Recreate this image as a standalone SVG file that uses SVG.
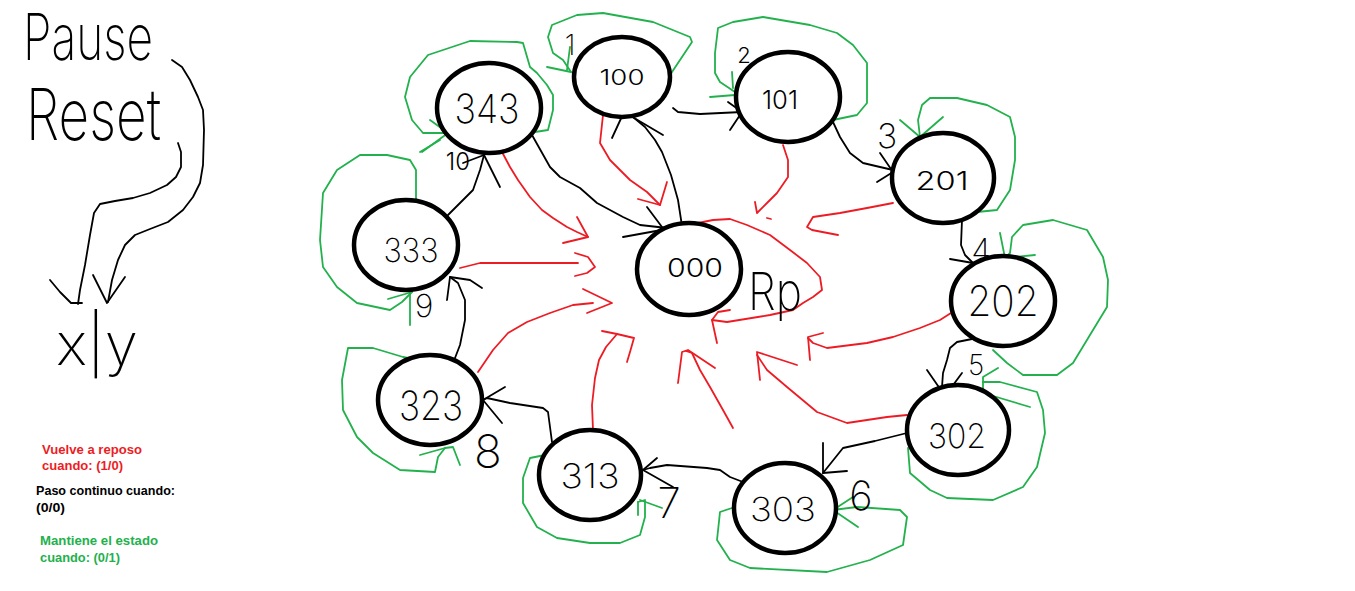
<svg xmlns="http://www.w3.org/2000/svg" width="1355" height="591" viewBox="0 0 1355 591">
  <style>
    .bg { fill: #ffffff; }
    .n { fill: #ffffff; stroke: #000000; stroke-width: 4.5; }
    .k, .r, .g { fill: none; stroke-width: 1.8; stroke-linejoin: round; stroke-linecap: round; }
    .k { stroke: #000000; }
    .r { stroke: #ed1c24; }
    .g { stroke: #22b14c; }
    .hw { font-family: "Inter", "Roboto", "Lato", "DejaVu Sans", sans-serif; font-weight: 200; fill: #000000; }
    .sm { font-weight: 300; }
    .lbl { text-anchor: middle; }
    .leg { font-family: "Liberation Sans", Arial, sans-serif; font-weight: bold; font-size: 12.5px; }
  </style>

  <rect class="bg" x="0" y="0" width="1355" height="591"/>

  <!-- key: input/output notation -->
  <g id="key">
    <text class="hw" x="23" y="60" font-size="64" textLength="130" lengthAdjust="spacingAndGlyphs">Pause</text>
    <text class="hw" x="26" y="140" font-size="72" textLength="135" lengthAdjust="spacingAndGlyphs">Reset</text>
    <text class="hw" x="56" y="365" font-size="58" textLength="82" lengthAdjust="spacingAndGlyphs">x|y</text>
    <path class="k" d="M172,60 L182,67 L190,80 L198,97 L203,110 L204,130 L203,165 L200,183 L193,197 L183,210 L168,222 L150,229 L135,235 L125,245 L118,260 L112,280 L108,302"/>
    <path class="k" d="M93,275 L107,303 L125,277"/>
    <path class="k" d="M178,143 L181,152 L181,167 L176,177 L167,185 L150,193 L133,198 L115,201 L100,204 L94,213 L90,235 L85,265 L80,290 L78,304"/>
    <path class="k" d="M50,280 L60,292 L71,303 L82,303"/>
  </g>

  <!-- legend -->
  <g id="legend" class="leg">
    <text x="42" y="454" fill="#ed1c24" textLength="100" lengthAdjust="spacingAndGlyphs">Vuelve a reposo</text>
    <text x="42" y="470" fill="#ed1c24" textLength="81" lengthAdjust="spacingAndGlyphs">cuando: (1/0)</text>
    <text x="36" y="495" fill="#000000" textLength="139" lengthAdjust="spacingAndGlyphs">Paso continuo cuando:</text>
    <text x="36" y="512" fill="#000000" textLength="29" lengthAdjust="spacingAndGlyphs">(0/0)</text>
    <text x="40" y="545" fill="#22b14c" textLength="118" lengthAdjust="spacingAndGlyphs">Mantiene el estado</text>
    <text x="40" y="562" fill="#22b14c" textLength="80" lengthAdjust="spacingAndGlyphs">cuando: (0/1)</text>
  </g>

  <g id="connectors">
    <!-- black: step forward (0/0) -->
    <path class="k" d="M673,108 L678,112 L700,114 L742,112"/>
    <path class="k" d="M728,102 L742,112 L730,130"/>
    <path class="k" d="M833,122 L840,137 L850,153 L863,163 L880,167 L893,170"/>
    <path class="k" d="M880,153 L893,172 L877,182"/>
    <path class="k" d="M962,220 L961,245 L965,255 L973,263"/>
    <path class="k" d="M950,259 L973,263"/>
    <path class="k" d="M977,338 L957,342 L950,348 L947,360 L943,373 L942,387 L945,396"/>
    <path class="k" d="M927,370 L945,396 L962,373"/>
    <path class="k" d="M907,433 L875,441 L843,448 L835,458 L823,473"/>
    <path class="k" d="M823,443 L823,473 L847,471"/>
    <path class="k" d="M743,482 L730,477 L720,470 L707,468 L667,465 L650,468 L643,470"/>
    <path class="k" d="M657,458 L643,470 L673,487"/>
    <path class="k" d="M552,442 L548,412 L543,408 L510,403 L487,398 L483,400"/>
    <path class="k" d="M505,387 L483,400 L502,423"/>
    <path class="k" d="M455,358 L460,345 L465,320 L465,300 L458,283 L450,277"/>
    <path class="k" d="M482,288 L470,280 L450,277 L447,300"/>
    <path class="k" d="M448,215 L460,203 L473,190 L480,170 L484,155"/>
    <path class="k" d="M463,163 L484,155 L500,187"/>
    <path class="k" d="M532,135 L550,167 L560,177 L580,188 L597,203 L623,217 L640,225 L667,228"/>
    <path class="k" d="M647,207 L662,227 M623,237 L667,229"/>
    <path class="k" d="M682,226 L678,200 L671,175 L662,152 L655,140 L645,127 L633,117 L624,112"/>
    <path class="k" d="M612,138 L624,112 L663,135"/>

    <!-- red: back to rest (1/0) -->
    <path class="r" d="M502,152 L510,167 L518,180 L530,197 L542,210 L553,218 L567,227 L577,232 L588,237"/>
    <path class="r" d="M577,217 L588,237 L563,243"/>
    <path class="r" d="M460,268 L480,263 L507,263 L578,263"/>
    <path class="r" d="M575,253 L588,257 L595,267 L587,273 L575,276"/>
    <path class="r" d="M478,372 L493,350 L508,333 L527,322 L550,313 L573,305 L593,303"/>
    <path class="r" d="M583,289 L612,303 L587,313"/>
    <path class="r" d="M593,430 L592,405 L595,378 L599,360 L606,347 L617,334"/>
    <path class="r" d="M602,331 L617,334 L634,338 L630,352 L627,362"/>
    <path class="r" d="M733,428 L723,410 L710,387 L700,370 L692,353 L686,351"/>
    <path class="r" d="M678,383 L682,352 L688,350 L715,368"/>
    <path class="r" d="M907,415 L887,417 L847,423 L817,412 L787,387 L767,370 L757,355"/>
    <path class="r" d="M797,365 L757,352 L760,380"/>
    <path class="r" d="M951,313 L940,320 L920,328 L893,337 L867,343 L827,348 L813,343 L808,338"/>
    <path class="r" d="M823,333 L808,337 L810,360"/>
    <path class="r" d="M893,203 L867,208 L840,213 L813,217 L807,227 L812,230 L838,235"/>
    <path class="r" d="M783,145 L788,160 L788,177 L777,193 L767,203 L757,213 L755,202"/>
    <path class="r" d="M767,218 L771,219"/>
    <path class="r" d="M603,115 L600,143 L610,160 L630,180 L647,192 L660,205"/>
    <path class="r" d="M638,199 L660,205 L667,182"/>
    <path class="r" d="M693,224 L713,220 L730,219 L747,225 L770,235 L790,250 L807,263 L820,277 L822,290 L813,297 L803,303 L793,310 L770,315 L727,322 L712,320"/>
    <path class="r" d="M730,310 L718,312 L712,320 L717,343"/>

    <!-- green: hold state (0/1) -->
    <path class="g" d="M535,132 L548,130 L553,110 L553,95 L547,85 L537,73 L530,67 L523,43 L517,42 L470,41 L428,55 L410,77 L405,97 L412,120 L423,133 L448,133"/>
    <path class="g" d="M430,120 L448,133 L422,152"/>
    <path class="g" d="M670,75 L680,60 L692,42 L690,37 L653,22 L603,13 L577,15 L552,25 L548,37 L553,53 L563,60 L571,72"/>
    <path class="g" d="M547,67 L571,72 M570,47 L567,70"/>
    <path class="g" d="M833,120 L857,115 L867,103 L867,63 L853,45 L837,33 L810,25 L763,17 L733,22 L718,28 L715,53 L715,73 L720,82 L735,92"/>
    <path class="g" d="M732,72 L733,88 M710,97 L735,95"/>
    <path class="g" d="M977,212 L997,210 L1010,190 L1015,160 L1015,137 L1010,117 L987,105 L957,98 L930,98 L922,105 L918,120 L920,137"/>
    <path class="g" d="M900,120 L920,137 L943,117"/>
    <path class="g" d="M993,350 L1007,363 L1023,375 L1057,375 L1073,363 L1093,330 L1107,307 L1108,280 L1103,257 L1087,230 L1053,220 L1023,225 L1012,237 L1010,253 L1005,258"/>
    <path class="g" d="M1000,233 L1005,258 L1035,255"/>
    <path class="g" d="M908,448 L910,473 L930,490 L947,498 L993,500 L1023,487 L1037,467 L1045,433 L1043,410 L1037,392 L1000,382 L983,382"/>
    <path class="g" d="M998,368 L983,377 L983,393 L1030,407"/>
    <path class="g" d="M732,508 L720,512 L717,540 L730,560 L750,568 L827,572 L870,560 L903,545 L907,517 L900,510 L857,507 L833,510"/>
    <path class="g" d="M853,497 L833,510 L858,527"/>
    <path class="g" d="M545,455 L530,458 L523,478 L523,503 L537,527 L557,538 L590,543 L620,543 L640,535 L645,517 L645,500 L638,502"/>
    <path class="g" d="M640,500 L662,508 M638,502 L638,515"/>
    <path class="g" d="M418,360 L403,357 L373,348 L348,348 L342,380 L343,410 L357,437 L373,453 L400,470 L435,472 L438,457 L445,448"/>
    <path class="g" d="M420,455 L445,448 L453,447 L460,465"/>
    <path class="g" d="M416,200 L416,170 L410,160 L387,155 L360,155 L337,170 L323,193 L320,240 L323,267 L337,287 L357,303 L390,310 L402,302 L412,292"/>
    <path class="g" d="M388,299 L412,292 M410,293 L410,325"/>
    <path class="g" d="M420,152 L440,140"/>
  </g>

  <!-- transition numbers -->
  <g id="steps" class="hw lbl">
    <text x="570" y="55" font-size="28">1</text>
    <text class="sm" x="744" y="63" font-size="22">2</text>
    <text x="887" y="148" font-size="34">3</text>
    <text x="981" y="262" font-size="32">4</text>
    <text x="976" y="375" font-size="28">5</text>
    <text x="861" y="510" font-size="40">6</text>
    <text x="669" y="518" font-size="42">7</text>
    <text x="488" y="468" font-size="46">8</text>
    <text x="424" y="317" font-size="32">9</text>
    <text class="sm" x="458" y="170" font-size="24">10</text>
  </g>

  <!-- states -->
  <g id="s000"><ellipse class="n" cx="689" cy="269" rx="52" ry="46"/><text class="hw sm lbl" x="695" y="277" font-size="25" textLength="56" lengthAdjust="spacingAndGlyphs">000</text><text class="hw" x="748" y="310" font-size="52" textLength="54" lengthAdjust="spacingAndGlyphs">Rp</text></g>
  <g id="s100"><ellipse class="n" cx="622" cy="77" rx="48" ry="40"/><text class="hw sm lbl" x="622" y="85" font-size="22" textLength="45" lengthAdjust="spacingAndGlyphs">100</text></g>
  <g id="s101"><ellipse class="n" cx="788" cy="97" rx="52" ry="45"/><text class="hw sm lbl" x="780" y="109" font-size="26" textLength="36" lengthAdjust="spacingAndGlyphs">101</text></g>
  <g id="s201"><ellipse class="n" cx="943" cy="178" rx="51" ry="45"/><text class="hw sm lbl" x="942" y="190" font-size="25" textLength="53" lengthAdjust="spacingAndGlyphs">201</text></g>
  <g id="s202"><ellipse class="n" cx="1003" cy="301" rx="52" ry="45"/><text class="hw lbl" x="1003" y="316" font-size="42" textLength="71" lengthAdjust="spacingAndGlyphs">202</text></g>
  <g id="s302"><ellipse class="n" cx="958" cy="430" rx="51" ry="45"/><text class="hw lbl" x="957" y="448" font-size="34" textLength="58" lengthAdjust="spacingAndGlyphs">302</text></g>
  <g id="s303"><ellipse class="n" cx="785" cy="508" rx="51" ry="45"/><text class="hw lbl" x="783" y="521" font-size="33" textLength="66" lengthAdjust="spacingAndGlyphs">303</text></g>
  <g id="s313"><ellipse class="n" cx="590" cy="475" rx="51" ry="45"/><text class="hw lbl" x="590" y="488" font-size="34" textLength="59" lengthAdjust="spacingAndGlyphs">313</text></g>
  <g id="s323"><ellipse class="n" cx="430" cy="400" rx="52" ry="45"/><text class="hw lbl" x="431" y="420" font-size="40" textLength="64" lengthAdjust="spacingAndGlyphs">323</text></g>
  <g id="s333"><ellipse class="n" cx="406" cy="245" rx="52" ry="45"/><text class="hw lbl" x="411" y="262" font-size="33" textLength="55" lengthAdjust="spacingAndGlyphs">333</text></g>
  <g id="s343"><ellipse class="n" cx="489" cy="108" rx="52" ry="45"/><text class="hw lbl" x="487" y="123" font-size="40" textLength="65" lengthAdjust="spacingAndGlyphs">343</text></g>
</svg>
